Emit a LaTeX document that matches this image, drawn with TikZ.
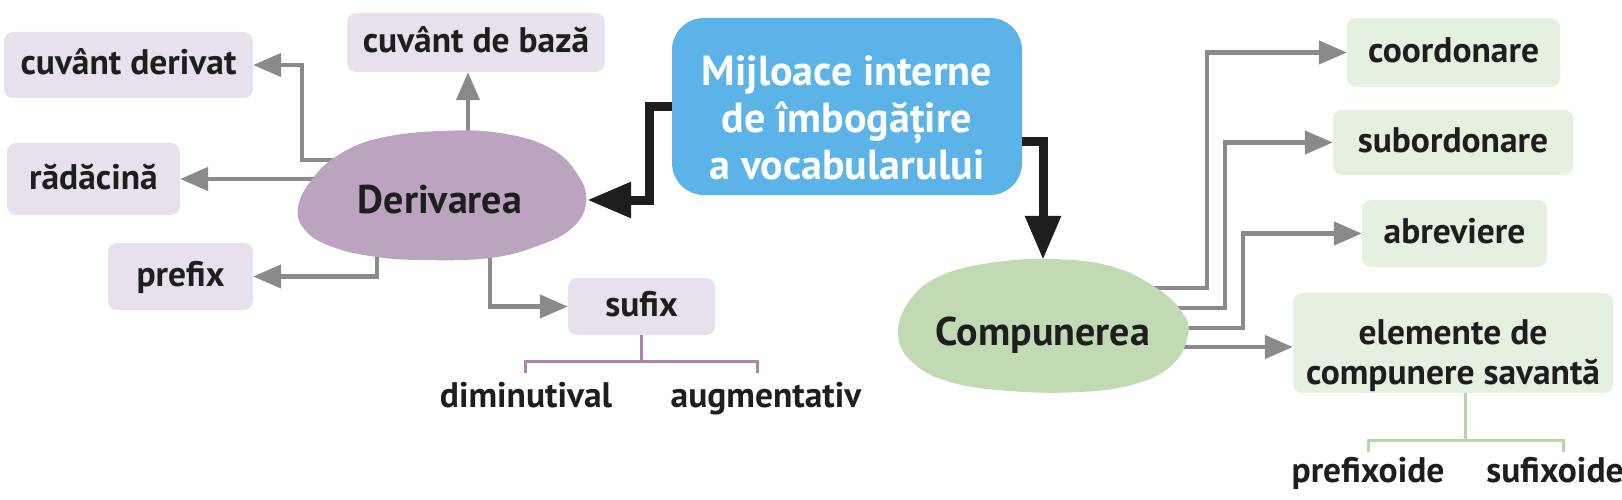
\documentclass[tikz,border=0pt]{standalone}
\usepackage{fontspec}
\newfontfamily\mapfont{PT Sans}
\usepackage{tikz}
\usetikzlibrary{calc,arrows.meta,shapes.geometric}

\definecolor{ink}{HTML}{1E1E1E}
\definecolor{lilac}{HTML}{E8E0EC}
\definecolor{mint}{HTML}{E6F0E0}
\definecolor{derblob}{HTML}{BCA4C0}
\definecolor{comblob}{HTML}{C2DAB4}
\definecolor{rootblue}{HTML}{5CB3E8}
\definecolor{arrowgray}{HTML}{8A8A8A}
\definecolor{lilacdark}{HTML}{A887AB}
\definecolor{mintdark}{HTML}{B8D7A6}

\pgfdeclarelayer{links}
\pgfsetlayers{links,main}

\tikzset{
  every node/.style={font=\mapfont\bfseries\fontsize{35.5}{40}\selectfont, text=ink, inner sep=0pt, text height=23pt, text depth=3pt},
  lilacbox/.style={fill=lilac, rounded corners=9pt},
  greenbox/.style={fill=mint, rounded corners=9pt},
  rootbox/.style={fill=rootblue, rounded corners=32pt, text=white, align=center, text height=, text depth=, font=\mapfont\bfseries\fontsize{42}{47}\selectfont},
  blobtext/.style={ellipse, font=\mapfont\bfseries\fontsize{40}{46}\selectfont, text height=27pt, text depth=0pt},
  garrow/.style={draw=arrowgray, line width=4.5pt, -{Triangle[length=28pt,width=23pt]}},
  barrow/.style={draw=ink, line width=9pt, -{Triangle[length=44pt,width=34pt]}},
  lilacline/.style={draw=lilacdark, line width=3pt},
  mintline/.style={draw=mintdark, line width=3pt}
}

\begin{document}
\begin{tikzpicture}[x=1pt,y=-1pt]
  \useasboundingbox (0,0) rectangle (1622,500);

  % the two blobs
  \fill[derblob] plot[smooth cycle, tension=0.7] coordinates {(298,207) (313,178) (340,154) (380,138) (440,131) (500,133) (550,148) (578,175) (586,203) (572,228) (540,245) (490,258) (420,260) (370,256) (330,246) (305,230)};
  \fill[comblob] plot[smooth cycle, tension=0.7] coordinates {(898,333) (910,300) (940,276) (990,263) (1050,259) (1110,266) (1155,287) (1182,312) (1188,335) (1172,365) (1135,384) (1080,392) (1010,391) (950,382) (912,362)};

  \node[blobtext, minimum width=294pt, minimum height=136pt] (der) at (440,200) {Derivarea};
  \node[blobtext, minimum width=290pt, minimum height=144pt] (com) at (1043,332) {Compunerea};

  \node[rootbox, minimum width=350pt, minimum height=177pt] (mb) at (847,106.5) {\rule{0pt}{52pt}Mijloace interne\\de îmbogățire\\a vocabularului};

  % derivarea side
  \node[lilacbox, minimum width=249pt, minimum height=66pt] (cd) at (128.5,65) {cuvânt derivat};
  \node[lilacbox, minimum width=258pt, minimum height=59pt] (cb) at (476,42.5) {cuvânt de bază};
  \node[lilacbox, minimum width=173pt, minimum height=72pt] (rd) at (93.5,179) {rădăcină};
  \node[lilacbox, minimum width=145pt, minimum height=67pt] (pf) at (180.5,276.5) {prefix};
  \node[lilacbox, minimum width=147pt, minimum height=57pt] (sf) at (641.5,306.5) {sufix};
  \node (dim) at (526,397) {diminutival};
  \node (aug) at (766,397) {augmentativ};

  % compunerea side
  \node[greenbox, minimum width=213pt, minimum height=69pt] (co) at (1453.5,52.5) {coordonare};
  \node[greenbox, minimum width=240pt, minimum height=65pt] (sb) at (1453,142.5) {subordonare};
  \node[greenbox, minimum width=185pt, minimum height=67pt] (ab) at (1454.5,233.5) {abreviere};
  \node[greenbox, minimum width=320pt, minimum height=100pt, align=center, text height=, text depth=] (el) at (1453,343) {\rule{0pt}{50pt}elemente de\\compunere savantă};
  \node (pxo) at (1368,472) {prefixoide};
  \node (sxo) at (1555,472) {sufixoide};

  \begin{pgfonlayer}{links}
    \draw[garrow] ($(der)+(0,-40)$) -| ($(cd.east)+(49,0)$) -- (cd.east);
    \coordinate (dup) at ($(der)+(28,0)$);
    \draw[garrow] (dup) -- (dup |- cb.south);
    \draw[garrow] (der |- rd.east) -- (rd.east);
    \draw[garrow] ($(der)+(-63,0)$) |- (pf.east);
    \draw[garrow] ($(der)+(50,0)$) |- (sf.west);

    \draw[garrow] ($(com)+(0,-44)$) -| ($(co.west)+(-140,0)$) -- (co.west);
    \draw[garrow] ($(com)+(0,-24)$) -| ($(sb.west)+(-108,0)$) -- (sb.west);
    \draw[garrow] ($(com)+(0,-4)$) -| ($(ab.west)+(-119,0)$) -- (ab.west);
    \draw[garrow] (com.center |- 0,347) -- (el.west |- 0,347);
  \end{pgfonlayer}

  \draw[barrow] (mb.west) -- ++(-22,0) |- (der.east);
  \draw[barrow] ($(mb.east)+(0,35)$) -| (com.north);

  % brackets
  \draw[lilacline] (sf.south) -- ++(0,26) coordinate (sfj);
  \draw[lilacline] ($(sfj)+(-116,12)$) -- ++(0,-12) -- ++(232,0) -- ++(0,12);
  \draw[mintline] ($(el.south)+(12,0)$) -- ++(0,47) coordinate (elj);
  \draw[mintline] ($(elj)+(-97,12)$) -- ++(0,-12) -- ++(195,0) -- ++(0,12);
\end{tikzpicture}
\end{document}
